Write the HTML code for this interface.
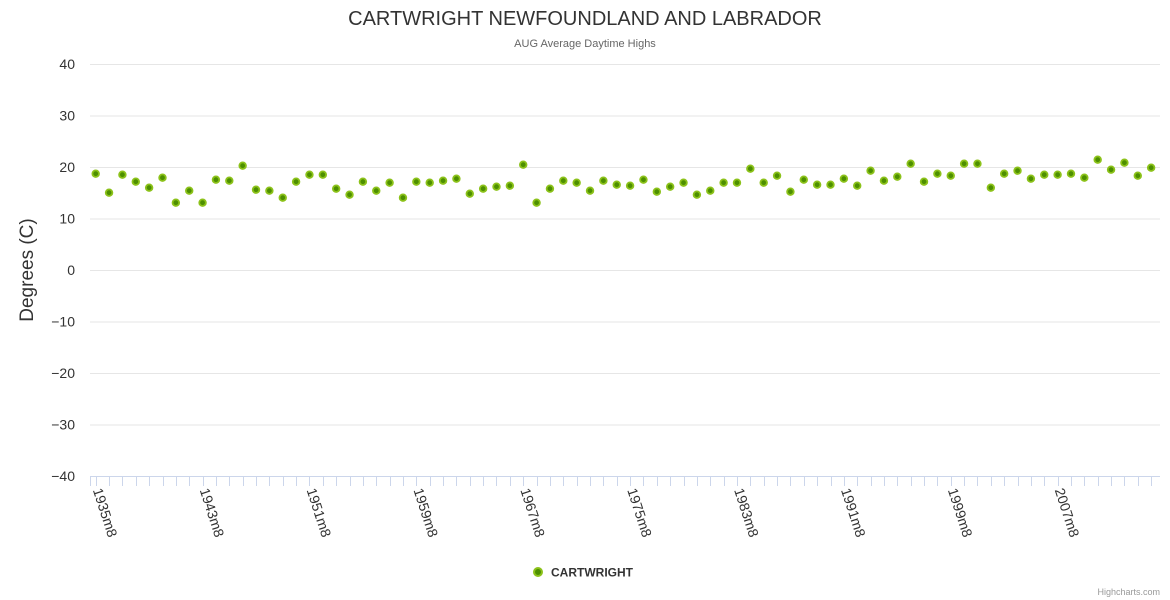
<!DOCTYPE html>
<html><head><meta charset="utf-8"><style>
html,body{margin:0;padding:0;background:#fff;}
svg{display:block;font-family:"Liberation Sans",Arial,sans-serif;}
</style></head><body>
<svg id="c" width="1170" height="600" xmlns="http://www.w3.org/2000/svg">
<text x="585" y="25" text-anchor="middle" font-size="20" fill="#333">CARTWRIGHT NEWFOUNDLAND AND LABRADOR</text>
<text x="585" y="47" text-anchor="middle" font-size="11" fill="#666">AUG Average Daytime Highs</text>
<g id="grid" stroke="#e6e6e6" stroke-width="1"></g>
<g id="ylab" font-size="14" fill="#333" text-anchor="end"></g>
<text transform="translate(33,270) rotate(-90)" text-anchor="middle" font-size="19" fill="#333">Degrees (C)</text>
<line x1="90" y1="476.5" x2="1160" y2="476.5" stroke="#ccd6eb"/>
<g id="ticks" stroke="#ccd6eb"></g>
<g id="xlab" font-size="14" fill="#333"></g>
<g id="pts"></g>
<circle cx="538" cy="572" r="4" fill="#4d8f00" stroke="#8cc21a" stroke-width="2"/>
<text x="551" y="576.5" font-size="12" font-weight="bold" fill="#333">CARTWRIGHT</text>
<text x="1160" y="595" text-anchor="end" font-size="9" fill="#999">Highcharts.com</text>
</svg>
<script>
var ns="http://www.w3.org/2000/svg";
function el(p,t,a,txt){var e=document.createElementNS(ns,t);for(var k in a)e.setAttribute(k,a[k]);if(txt!=null)e.textContent=txt;document.getElementById(p).appendChild(e);}
for(var i=0;i<8;i++){var y=64+i*51.5;el("grid","line",{x1:90,x2:1160,y1:y+0.5,y2:y+0.5});}
for(var i=0;i<9;i++){var y=64+i*51.5;el("ylab","text",{x:75,y:y+5},String(40-i*10).replace("-","−"));}
var x0=95.7,dx=13.36;
el("ticks","line",{x1:90.5,x2:90.5,y1:476,y2:486});
for(var i=0;i<80;i++){var x=Math.round(x0+i*dx)+0.5;el("ticks","line",{x1:x,x2:x,y1:476,y2:486});}
for(var k=0;k<10;k++){var x=x0+k*8*dx-3;el("xlab","text",{transform:"translate("+x+",490) rotate(72)"},(1935+8*k)+"m8");}
var ys=[173.7,192.7,174.7,181.7,187.7,177.7,202.7,190.7,202.7,179.7,180.7,165.7,189.7,190.7,197.7,181.7,174.7,174.7,188.7,194.7,181.7,190.7,182.7,197.7,181.7,182.7,180.7,178.7,193.7,188.7,186.7,185.7,164.7,202.7,188.7,180.7,182.7,190.7,180.7,184.7,
185.7,179.7,191.7,186.7,182.7,194.7,190.7,182.7,182.7,168.7,182.7,175.7,191.7,179.7,184.7,184.7,178.7,185.7,170.7,180.7,176.7,163.7,181.7,173.7,175.7,163.7,163.7,187.7,173.7,170.7,178.7,174.7,174.7,173.7,177.7,159.7,169.7,162.7,175.7,167.7];
for(var i=0;i<ys.length;i++){el("pts","circle",{cx:x0+i*dx,cy:ys[i],r:3.3,fill:"#4d8f00",stroke:"#8cc21a","stroke-width":1.8});}
</script>
</body></html>
